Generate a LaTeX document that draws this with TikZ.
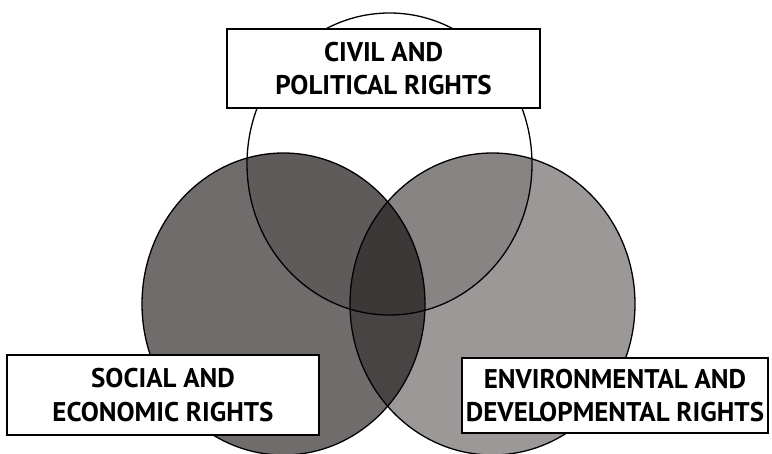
\documentclass[tikz,border=0pt]{standalone}
\usepackage{fontspec}
\setmainfont{PT Sans}
\usepackage{tikz}
\usetikzlibrary{positioning}

% shades of the three rights areas and their overlaps
\definecolor{socialgray}{RGB}{112,108,108}
\definecolor{envgray}{RGB}{156,152,152}
\definecolor{socenvgray}{RGB}{72,68,68}
\definecolor{civsocgray}{RGB}{95,91,91}
\definecolor{civenvgray}{RGB}{136,132,132}
\definecolor{allgray}{RGB}{60,56,56}

\tikzset{
	rightsbox/.style={draw, line width=1.5pt, fill=white, align=center, inner sep=0pt,
		font=\fontsize{27}{33.5}\selectfont\bfseries},
	rightsline/.style={line width=1.3pt}
}

\newcommand\civilpath{(389.5,164) ellipse [x radius=142.5pt, y radius=151pt]}
\newcommand\socialpath{(283.5,304) ellipse [x radius=141.5pt, y radius=151pt]}
\newcommand\envpath{(492.5,304) ellipse [x radius=142.5pt, y radius=151pt]}

\begin{document}
\begin{tikzpicture}[x=1pt,y=-1pt]
	\useasboundingbox[fill=white] (0,0) rectangle (772,454);
	
	% fill the circles
	\fill[socialgray] \socialpath;
	\fill[envgray] \envpath;
	\begin{scope}
		\clip \envpath;
		\fill[socenvgray] \socialpath;
	\end{scope}
	\begin{scope}
		\clip \civilpath;
		\fill[civsocgray] \socialpath;
		\fill[civenvgray] \envpath;
		\clip \envpath;
		\fill[allgray] \socialpath;
	\end{scope}
	
	% draw outlines
	\draw[rightsline] \civilpath;
	\draw[rightsline] \socialpath;
	\draw[rightsline] \envpath;
	
	% draw labels
	\node[rightsbox, minimum width=313pt, minimum height=79pt] (civil) at (383.5,68.5) {CIVIL AND\\POLITICAL RIGHTS};
	\node[rightsbox, minimum width=312pt, minimum height=80pt] (social) at (163,395) {SOCIAL AND\\ECONOMIC RIGHTS};
	\node[rightsbox, minimum width=306pt, minimum height=75pt] (env) at (615,395.5) {ENVIRONMENTAL AND\\DEVELOPMENTAL RIGHTS};
\end{tikzpicture}
\end{document}
